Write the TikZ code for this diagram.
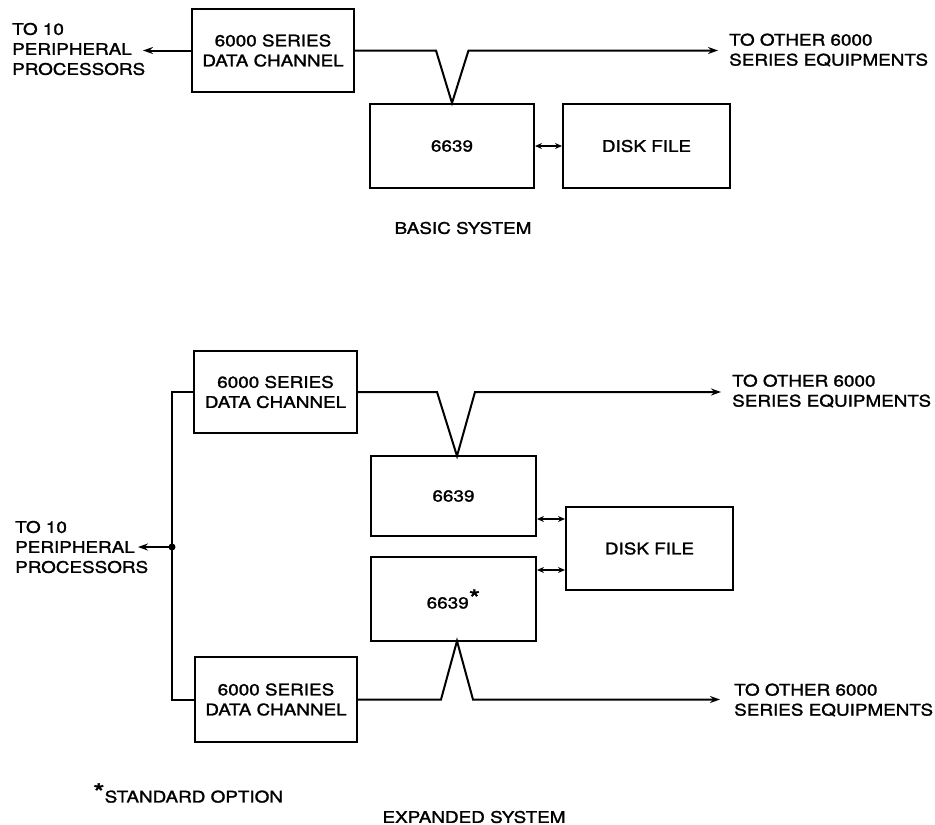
\documentclass[tikz,border=0pt]{standalone}
\usepackage{fontspec}
\setmainfont{TeX Gyre Heros}[FakeStretch=1.18,FakeBold=1.5]
\usetikzlibrary{arrows.meta}
\newcommand{\optstar}{\raisebox{1pt}{\fontsize{25}{25}\selectfont *}}
\begin{document}
\begin{tikzpicture}[x=1pt,y=-1pt,
  every node/.style={font=\fontsize{16}{20}\selectfont},
  blk/.style={draw, line width=2pt, inner sep=0pt, align=center},
  lbl/.style={align=left, inner sep=0pt, anchor=west},
  ttl/.style={inner sep=0pt},
  wire/.style={line width=2pt, line join=miter},
  tip/.style={-{Stealth[length=10pt,width=7pt]}},
  dtip/.style={{Stealth[length=7pt,width=6pt]}-{Stealth[length=7pt,width=6pt]}}]
\useasboundingbox (0,0) rectangle (935,825);

% ---------------- BASIC SYSTEM ----------------
\node[blk, minimum width=162pt, minimum height=83pt] (dc0) at (273,50.5) {6000 SERIES\\DATA CHANNEL};
\node[blk, minimum width=164pt, minimum height=84pt] (p0) at (452,146) {6639};
\node[blk, minimum width=167pt, minimum height=84pt] (d0) at (646.5,146) {DISK FILE};

\coordinate (pp0) at (143,50.5);
\coordinate (k0a) at (436,50.5);
\coordinate (k0b) at (468.5,50.5);
\coordinate (o0) at (718,50.5);

\draw[wire,tip] (dc0.west) -- (pp0);
\draw[wire,tip] (dc0.east) -- (k0a) -- (p0.north) -- (k0b) -- (o0);
\draw[wire,dtip] (p0.east) -- (d0.west);

\node[lbl] (lpp0) at (12,49) {TO 10\\PERIPHERAL\\PROCESSORS};
\node[lbl] (lo0) at (729,50) {TO OTHER 6000\\SERIES EQUIPMENTS};
\node[ttl] (basic) at (463,228) {BASIC SYSTEM};

% ---------------- EXPANDED SYSTEM ----------------
\node[blk, minimum width=163pt, minimum height=82pt] (dc1) at (275.5,392) {6000 SERIES\\DATA CHANNEL};
\node[blk, minimum width=165pt, minimum height=80pt] (p1) at (453.5,496) {6639};
\node[blk, minimum width=165pt, minimum height=84pt] (p2) at (453.5,599) {6639\optstar};
\node[blk, minimum width=167pt, minimum height=83pt] (d1) at (649.5,548.5) {DISK FILE};
\node[blk, minimum width=162pt, minimum height=85pt] (dc2) at (276,699.5) {6000 SERIES\\DATA CHANNEL};

\coordinate (b1) at (172,392);
\coordinate (bus) at (172,547);
\coordinate (b2) at (172,699.5);
\coordinate (pp1) at (138,547);
\coordinate (a1) at (457,456);
\coordinate (k1a) at (437,392);
\coordinate (k1b) at (475,392);
\coordinate (o1) at (721,392);
\coordinate (a2) at (457,641);
\coordinate (k2a) at (441,699.5);
\coordinate (k2b) at (473,699.5);
\coordinate (o2) at (720,699.5);

\draw[wire] (dc1.west) -- (b1) -- (b2) -- (dc2.west);
\fill (bus) circle (3.5pt);
\draw[wire,tip] (bus) -- (pp1);
\draw[wire,tip] (dc1.east) -- (k1a) -- (a1) -- (k1b) -- (o1);
\draw[wire,tip] (dc2.east) -- (k2a) -- (a2) -- (k2b) -- (o2);
\draw[wire,dtip] ([yshift=-23pt]p1.east) -- ([yshift=-23pt]p1.east -| d1.west);
\draw[wire,dtip] ([yshift=29pt]p2.east) -- ([yshift=29pt]p2.east -| d1.west);

\node[lbl] (lpp1) at (15,547) {TO 10\\PERIPHERAL\\PROCESSORS};
\node[lbl] (lo1) at (732,391) {TO OTHER 6000\\SERIES EQUIPMENTS};
\node[lbl] (lo2) at (734,700) {TO OTHER 6000\\SERIES EQUIPMENTS};
\node[lbl] (std) at (93,793) {\optstar STANDARD OPTION};
\node[ttl] (expanded) at (474,817) {EXPANDED SYSTEM};
\end{tikzpicture}
\end{document}
